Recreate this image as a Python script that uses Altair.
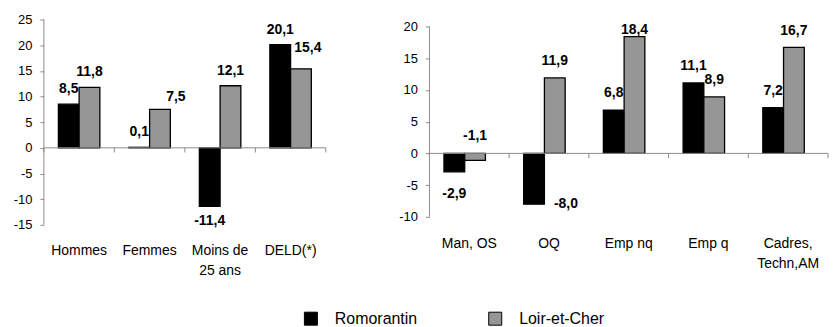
import altair as alt
import pandas as pd

FONT = "Liberation Sans"
GREY_AXIS = "#8c8c8c"

series = ["Romorantin", "Loir-et-Cher"]
series_colors = ["#000000", "#969696"]

left_cats = ["Hommes", "Femmes", "Moins de 25 ans", "DELD(*)"]
left_romo = [8.5, 0.1, -11.4, 20.1]
left_loir = [11.8, 7.5, 12.1, 15.4]
left_romo_place = ["above", "above", "below", "above"]
left_loir_place = ["above", "aboveright", "above", "aboveshift"]
left_lines = {"Moins de 25 ans": ["Moins de", "25 ans"]}

right_cats = ["Man, OS", "OQ", "Emp nq", "Emp q", "Cadres, Techn,AM"]
right_romo = [-2.9, -8.0, 6.8, 11.1, 7.2]
right_loir = [-1.1, 11.9, 18.4, 8.9, 16.7]
right_romo_place = ["below", "beside", "above", "above", "above"]
right_loir_place = ["above", "above", "abovetight", "above", "above"]
right_lines = {"Cadres, Techn,AM": ["Cadres,", "Techn,AM"]}


def fr(v):
    return f"{v:.1f}".replace(".", ",")


def make_df(cats, romo, loir, rplace, lplace):
    rows = []
    for c, a, b, pa, pb in zip(cats, romo, loir, rplace, lplace):
        for s, v, p in ((series[0], a, pa), (series[1], b, pb)):
            rows.append({"cat": c, "series": s, "value": v, "label": fr(v),
                         "place": p, "anchor": max(v, 0) if p.startswith("above") else v})
    return pd.DataFrame(rows)


def label_expr(lines):
    expr = "datum.label"
    for k, parts in lines.items():
        arr = "[" + ", ".join(f"'{p}'" for p in parts) + "]"
        expr = f"datum.label == '{k}' ? {arr} : ({expr})"
    return expr


legend = alt.Legend(orient="none", legendX=260, legendY=292, direction="horizontal",
                    title=None, symbolType="square", symbolSize=170,
                    symbolStrokeColor="black", symbolStrokeWidth=1,
                    labelFontSize=16, labelFont=FONT, labelOffset=16,
                    columnPadding=69, padding=0, labelColor="black")


def panel(cats, romo, loir, rplace, lplace, ymin, ymax, dom_max, width, height,
          labpad, dy_above, dy_below, lines, tick_units):
    df = make_df(cats, romo, loir, rplace, lplace)

    def X(band=None):
        kw = {}
        if band is not None:
            kw["bandPosition"] = band
        ax = alt.Axis(title=None, domain=False, ticks=False, labelAngle=0,
                      labelPadding=labpad, labelFontSize=14, labelFont=FONT,
                      labelColor="black", labelExpr=label_expr(lines),
                      labelLineHeight=20)
        return alt.X("cat:N", sort=cats,
                     scale=alt.Scale(paddingInner=0, paddingOuter=0),
                     axis=ax, **kw)

    xoff = alt.XOffset("series:N", sort=series,
                       scale=alt.Scale(paddingInner=0, paddingOuter=0.7))
    yscale = alt.Scale(domain=[ymin, dom_max], nice=False, zero=True)
    tick_vals = list(range(ymin, ymax + 1, 5))
    yaxis = alt.Axis(title=None, values=tick_vals, tickCount=len(tick_vals),
                     grid=False, domain=False, tickSize=4, tickColor=GREY_AXIS,
                     labelExpr="datum.value + ''", labelPadding=8, labelOverlap=False,
                     labelFontSize=13, labelFont=FONT, labelColor="black")

    def Y(field):
        return alt.Y(field, scale=yscale, axis=yaxis)

    base = alt.Chart(df)
    bars = base.mark_bar(stroke="black", strokeWidth=1.3).encode(
        x=X(), xOffset=xoff, y=Y("value:Q"),
        color=alt.Color("series:N", sort=series,
                        scale=alt.Scale(domain=series, range=series_colors),
                        legend=legend),
    )
    txt = dict(fontWeight="bold", fontSize=14, font=FONT, color="black")

    def labels(place, **mk):
        return base.transform_filter(f"datum.place == '{place}'").mark_text(
            **mk, **txt).encode(x=X(), xOffset=xoff, y=Y("anchor:Q"), text="label:N")

    above = labels("above", baseline="alphabetic", dy=-dy_above)
    tight = labels("abovetight", baseline="alphabetic", dy=-3)
    aboveright = labels("aboveright", baseline="alphabetic", dy=-dy_above + 3, dx=16)
    aboveshift = labels("aboveshift", baseline="alphabetic", dy=-dy_above - 6, dx=7)
    below = labels("below", baseline="alphabetic", dy=dy_below)
    beside = labels("beside", baseline="middle", dx=32)

    # zero line, y-axis line and category boundary ticks
    ax_df = pd.DataFrame({"lo": [ymin], "hi": [ymax], "z": [0]})
    zero = alt.Chart(ax_df).mark_rule(color=GREY_AXIS, strokeWidth=1).encode(
        y=Y("z:Q"))
    yline = alt.Chart(ax_df).mark_rule(color=GREY_AXIS, strokeWidth=1).encode(
        x=alt.value(0), y=Y("lo:Q"), y2="hi:Q")
    tdf = pd.DataFrame({"cat": cats, "z": 0.0, "zt": -tick_units})
    ticks_start = alt.Chart(tdf).mark_rule(color=GREY_AXIS).encode(
        x=X(band=0), y=Y("z:Q"), y2="zt:Q")
    ticks_end = alt.Chart(tdf).transform_filter(
        f"datum.cat == '{cats[-1]}'").mark_rule(color=GREY_AXIS).encode(
        x=X(band=1), y=Y("z:Q"), y2="zt:Q")

    return alt.layer(bars, zero, yline, ticks_start, ticks_end, above, tight,
                     aboveright, aboveshift, below, beside).properties(
        width=width, height=height)


left = panel(left_cats, left_romo, left_loir, left_romo_place, left_loir_place,
             -15, 25, 25, 283, 206, 19, 11, 19, left_lines, 0.9)
right = panel(right_cats, right_romo, right_loir, right_romo_place, right_loir_place,
              -10, 20, 21.1, 400, 198, 20, 13, 26, right_lines, 0.75)

chart = alt.hconcat(left, right, spacing=72).properties(
    padding={"left": 5, "top": 5, "right": 0, "bottom": 0}
).configure(font=FONT).configure_view(strokeWidth=0, stroke="transparent")

chart.save("out.html", embed_options={"renderer": "svg", "actions": False})
